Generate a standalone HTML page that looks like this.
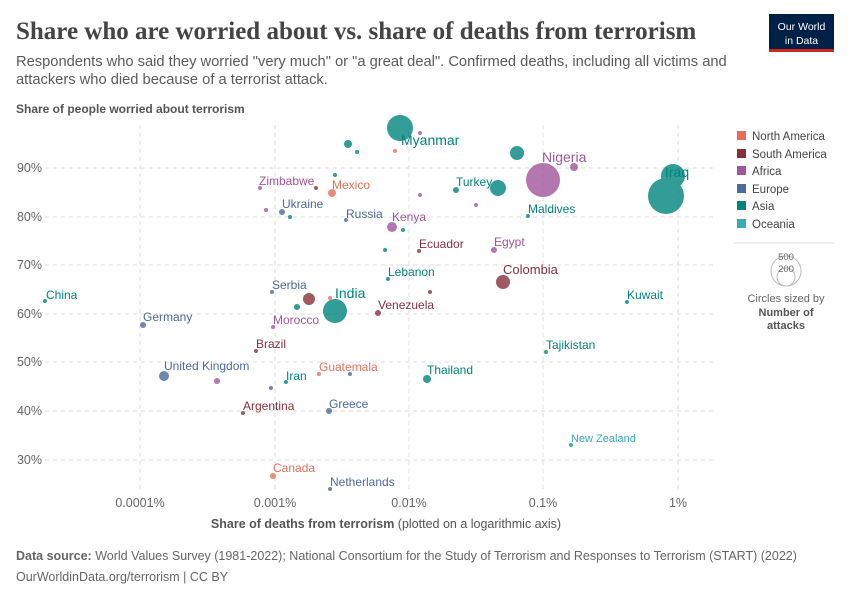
<!DOCTYPE html><html><head><meta charset="utf-8"><style>
body{margin:0;background:#fff;font-family:"Liberation Sans",sans-serif}
svg text{font-family:"Liberation Sans",sans-serif}
</style></head><body>
<svg width="850" height="600" xmlns="http://www.w3.org/2000/svg">
<text x="16" y="39" font-size="25" font-weight="bold" fill="#444" style="font-family:'Liberation Serif',serif">Share who are worried about vs. share of deaths from terrorism</text>
<text x="16" y="66" font-size="14.7" fill="#5b5b5b">Respondents who said they worried "very much" or "a great deal". Confirmed deaths, including all victims and</text>
<text x="16" y="84" font-size="14.7" fill="#5b5b5b">attackers who died because of a terrorist attack.</text>
<rect x="769" y="14" width="65" height="37" fill="#002147"/><rect x="769" y="49" width="65" height="3" fill="#ce261e"/>
<text x="801.5" y="30" font-size="10.5" fill="#fff" text-anchor="middle">Our World</text>
<text x="801.5" y="44" font-size="10.5" fill="#fff" text-anchor="middle">in Data</text>
<text x="16" y="113" font-size="12" font-weight="bold" fill="#555">Share of people worried about terrorism</text>
<g stroke="#ddd" stroke-dasharray="4,4" stroke-width="1">
<line x1="45" x2="715" y1="168" y2="168"/><line x1="45" x2="715" y1="217" y2="217"/><line x1="45" x2="715" y1="265" y2="265"/><line x1="45" x2="715" y1="314" y2="314"/><line x1="45" x2="715" y1="362" y2="362"/><line x1="45" x2="715" y1="411" y2="411"/><line x1="45" x2="715" y1="460" y2="460"/>
<line x1="140" x2="140" y1="125" y2="492"/><line x1="275" x2="275" y1="125" y2="492"/><line x1="409" x2="409" y1="125" y2="492"/><line x1="543" x2="543" y1="125" y2="492"/><line x1="678" x2="678" y1="125" y2="492"/>
</g>
<g font-size="12.5" fill="#666" text-anchor="end">
<text x="42" y="172">90%</text><text x="42" y="221">80%</text><text x="42" y="269">70%</text><text x="42" y="318">60%</text><text x="42" y="366">50%</text><text x="42" y="415">40%</text><text x="42" y="464">30%</text></g>
<g font-size="12.5" fill="#666" text-anchor="middle">
<text x="140" y="507">0.0001%</text><text x="275" y="507">0.001%</text><text x="409" y="507">0.01%</text><text x="543" y="507">0.1%</text><text x="678" y="507">1%</text></g>
<text x="386" y="528" font-size="12.5" fill="#555" text-anchor="middle"><tspan font-weight="bold">Share of deaths from terrorism</tspan> (plotted on a logarithmic axis)</text>
<g opacity="0.8" fill="#00847e">
<circle cx="400" cy="128" r="13"/><circle cx="348" cy="144" r="4"/><circle cx="357" cy="152" r="2"/><circle cx="517" cy="153" r="7"/><circle cx="498" cy="188" r="8"/><circle cx="456" cy="190" r="3"/><circle cx="335" cy="175" r="2"/><circle cx="528" cy="216" r="2"/><circle cx="403" cy="230" r="2"/><circle cx="385" cy="250" r="2"/><circle cx="388" cy="279" r="2"/><circle cx="297" cy="307" r="3"/><circle cx="335" cy="311" r="12"/><circle cx="546" cy="352" r="2"/><circle cx="427" cy="379" r="4"/><circle cx="286" cy="382" r="2"/><circle cx="627" cy="302" r="2"/><circle cx="290" cy="217" r="2"/><circle cx="673" cy="176" r="12"/><circle cx="666" cy="196" r="18"/><circle cx="45" cy="301" r="2"/></g>
<g opacity="0.8" fill="#e56e5a"><circle cx="395" cy="151" r="2"/><circle cx="332" cy="193" r="4"/><circle cx="319" cy="374" r="2"/><circle cx="273" cy="476" r="3"/><circle cx="330" cy="298" r="2"/></g>
<g opacity="0.8" fill="#883039"><circle cx="316" cy="188" r="2"/><circle cx="309" cy="299" r="6"/><circle cx="378" cy="313" r="3"/><circle cx="430" cy="292" r="2"/><circle cx="419" cy="251" r="2"/><circle cx="503" cy="282" r="7"/><circle cx="256" cy="351" r="2"/><circle cx="243" cy="413" r="2"/></g>
<g opacity="0.8" fill="#a2559c"><circle cx="420" cy="133" r="2"/><circle cx="260" cy="188" r="2"/><circle cx="266" cy="210" r="2"/><circle cx="420" cy="195" r="2"/><circle cx="476" cy="205" r="2"/><circle cx="392" cy="227" r="5"/><circle cx="494" cy="250" r="3"/><circle cx="543" cy="180" r="17"/><circle cx="574" cy="167" r="4"/><circle cx="273" cy="327" r="2"/><circle cx="217" cy="381" r="3"/></g>
<g opacity="0.8" fill="#4c6a9c"><circle cx="282" cy="212" r="3"/><circle cx="346" cy="220" r="2"/><circle cx="272" cy="292" r="2"/><circle cx="143" cy="325" r="3"/><circle cx="164" cy="376" r="5"/><circle cx="271" cy="388" r="2"/><circle cx="350" cy="374" r="2"/><circle cx="329" cy="411" r="3"/><circle cx="330" cy="489" r="2"/></g>
<circle cx="571" cy="445" r="2" fill="#38aaba"/>
<g font-size="12">
<text x="401" y="145" font-size="14" fill="#00847e">Myanmar</text>
<text x="542" y="162" font-size="14" fill="#a2559c">Nigeria</text>
<text x="665" y="177" font-size="14" fill="#00847e">Iraq</text>
<text x="456" y="186" fill="#00847e">Turkey</text>
<text x="528" y="213" fill="#00847e">Maldives</text>
<text x="259" y="185" fill="#a2559c">Zimbabwe</text>
<text x="332" y="189" fill="#e56e5a">Mexico</text>
<text x="282" y="208" fill="#4c6a9c">Ukraine</text>
<text x="346" y="218" fill="#4c6a9c">Russia</text>
<text x="392" y="221" fill="#a2559c">Kenya</text>
<text x="419" y="248" fill="#883039">Ecuador</text>
<text x="494" y="246" fill="#a2559c">Egypt</text>
<text x="388" y="276" fill="#00847e">Lebanon</text>
<text x="503" y="274" font-size="13" fill="#883039">Colombia</text>
<text x="335" y="298" font-size="14" fill="#00847e">India</text>
<text x="627" y="299" fill="#00847e">Kuwait</text>
<text x="46" y="299" fill="#00847e">China</text>
<text x="272" y="289" fill="#4c6a9c">Serbia</text>
<text x="378" y="309" fill="#883039">Venezuela</text>
<text x="143" y="321" fill="#4c6a9c">Germany</text>
<text x="273" y="324" fill="#a2559c">Morocco</text>
<text x="256" y="348" fill="#883039">Brazil</text>
<text x="546" y="349" fill="#00847e">Tajikistan</text>
<text x="164" y="370" fill="#4c6a9c">United Kingdom</text>
<text x="319" y="371" fill="#e56e5a">Guatemala</text>
<text x="427" y="374" fill="#00847e">Thailand</text>
<text x="286" y="380" fill="#00847e">Iran</text>
<text x="243" y="410" fill="#883039">Argentina</text>
<text x="329" y="408" fill="#4c6a9c">Greece</text>
<text x="571" y="442" font-size="11" fill="#38aaba">New Zealand</text>
<text x="273" y="472" fill="#e56e5a">Canada</text>
<text x="330" y="486" fill="#4c6a9c">Netherlands</text>
</g>
<g font-size="11.5" fill="#444">
<rect x="737" y="131" width="9" height="9" fill="#e56e5a"/><text x="752" y="140">North America</text>
<rect x="737" y="149" width="9" height="9" fill="#883039"/><text x="752" y="158">South America</text>
<rect x="737" y="166" width="9" height="9" fill="#a2559c"/><text x="752" y="175">Africa</text>
<rect x="737" y="184" width="9" height="9" fill="#4c6a9c"/><text x="752" y="193">Europe</text>
<rect x="737" y="201" width="9" height="9" fill="#00847e"/><text x="752" y="210">Asia</text>
<rect x="737" y="219" width="9" height="9" fill="#38aaba"/><text x="752" y="228">Oceania</text>
</g>
<line x1="734" x2="834" y1="243" y2="243" stroke="#ddd"/>
<circle cx="786" cy="271" r="15" fill="none" stroke="#bbb"/><circle cx="786" cy="277" r="9" fill="none" stroke="#bbb"/>
<text x="786" y="260" font-size="9.5" fill="#666" text-anchor="middle">500</text>
<text x="786" y="272" font-size="9.5" fill="#666" text-anchor="middle">200</text>
<text x="786" y="302" font-size="11" fill="#666" text-anchor="middle">Circles sized by</text>
<text x="786" y="316" font-size="11" font-weight="bold" fill="#555" text-anchor="middle">Number of</text>
<text x="786" y="329" font-size="11" font-weight="bold" fill="#555" text-anchor="middle">attacks</text>
<text x="16" y="560" font-size="12.5" fill="#666"><tspan font-weight="bold">Data source:</tspan> World Values Survey (1981-2022); National Consortium for the Study of Terrorism and Responses to Terrorism (START) (2022)</text>
<text x="16" y="581" font-size="12.5" fill="#666">OurWorldinData.org/terrorism | CC BY</text>
</svg></body></html>
